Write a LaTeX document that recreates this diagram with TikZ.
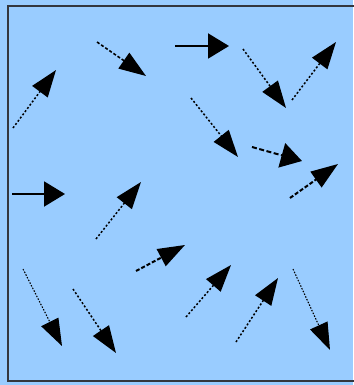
\documentclass[tikz,border=0pt]{standalone}
\usetikzlibrary{arrows.meta}
\definecolor{bgblue}{HTML}{99CCFF}
\definecolor{frame}{HTML}{33363D}
\tikzset{
  vec/.style={line width=1.5pt, black, -{Triangle[length=27pt,width=19pt]}},
  vflat/.style={-{Triangle[length=21pt,width=25pt]}},
  vsolid/.style={vec, line width=2pt},
  vdot/.style={vec, dash pattern=on 2pt off 2pt},
  vdash/.style={vec, line width=2pt, dash pattern=on 5pt off 2.5pt},
}
\begin{document}
\begin{tikzpicture}[x=1pt,y=-1pt]
\useasboundingbox (0,0) rectangle (353,385);
\fill[bgblue] (0,0) rectangle (353,385);
\draw[frame, line width=2pt] (360,6) -- (8,6) -- (8,381) -- (360,381);
% arrows: tail t, head h
\coordinate (t1) at (13,128);  \coordinate (h1) at (56,70);
\coordinate (t2) at (97,42);   \coordinate (h2) at (146,76);
\coordinate (t3) at (175,46);  \coordinate (h3) at (229,46);
\coordinate (t4) at (243,49);  \coordinate (h4) at (286,108);
\coordinate (t5) at (292,100); \coordinate (h5) at (336,42);
\coordinate (t6) at (191,98);  \coordinate (h6) at (238,157);
\coordinate (t7) at (252,147); \coordinate (h7) at (302,161);
\coordinate (t8) at (290,198); \coordinate (h8) at (338,164);
\coordinate (t9) at (12,194);  \coordinate (h9) at (65,194);
\coordinate (t10) at (96,239); \coordinate (h10) at (141,182);
\coordinate (t11) at (136,271);\coordinate (h11) at (185,245);
\coordinate (t12) at (23,269); \coordinate (h12) at (62,346);
\coordinate (t13) at (73,289); \coordinate (h13) at (116,353);
\coordinate (t14) at (186,317);\coordinate (h14) at (231,265);
\coordinate (t15) at (236,342);\coordinate (h15) at (278,278);
\coordinate (t16) at (293,269);\coordinate (h16) at (330,350);
\draw[vdot]   (t1) -- (h1);
\draw[vdash, line width=1.6pt, dash pattern=on 3pt off 2pt] (t2) -- (h2);
\draw[vsolid, vflat] (t3) -- (h3);
\draw[vdot]   (t4) -- (h4);
\draw[vdot]   (t5) -- (h5);
\draw[vdot]   (t6) -- (h6);
\draw[vdash, vflat]  (t7) -- (h7);
\draw[vdash, dash pattern=on 4pt off 2pt]  (t8) -- (h8);
\draw[vsolid, vflat] (t9) -- (h9);
\draw[vdot]   (t10) -- (h10);
\draw[vdash, dash pattern=on 4pt off 2pt]  (t11) -- (h11);
\draw[vdot, line width=1.1pt, dash pattern=on 1.5pt off 1.5pt]   (t12) -- (h12);
\draw[vdot]   (t13) -- (h13);
\draw[vdot]   (t14) -- (h14);
\draw[vdot]   (t15) -- (h15);
\draw[vdot, line width=1.1pt, dash pattern=on 1.5pt off 1.5pt]   (t16) -- (h16);
\end{tikzpicture}
\end{document}
